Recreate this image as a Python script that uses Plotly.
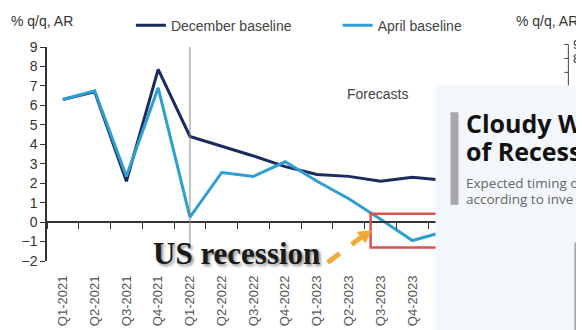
import plotly.graph_objs as go

# data
quarters = ['Q1-2021', 'Q2-2021', 'Q3-2021', 'Q4-2021', 'Q1-2022', 'Q2-2022', 'Q3-2022',
            'Q4-2022', 'Q1-2023', 'Q2-2023', 'Q3-2023', 'Q4-2023', 'Q1-2024']
december = [6.3, 6.7, 2.1, 7.85, 4.4, 3.9, 3.4, 2.85, 2.45, 2.35, 2.1, 2.3, 2.15]
april = [6.3, 6.75, 2.35, 6.9, 0.25, 2.55, 2.35, 3.1, 2.1, 1.2, 0.15, -0.95, -0.5]
y_ticks = list(range(-2, 10))

DARK = '#1c2b5e'
LIGHT = '#2f9fd2'
FONT = 'Liberation Sans, Arial, sans-serif'

# the page body has an 8px margin, so the figure is drawn 8px smaller
OFF = 8
W, H = 584 - OFF, 330 - OFF
# plot area in screen pixels
SL, SR, ST, SB = 47, 460.5, 46.5, 261.5
ML, MR, MT, MB = SL - OFF, W - (SR - OFF), ST - OFF, H - (SB - OFF)
PW, PH = SR - SL, SB - ST


# screen pixel -> paper helpers for the decorations
def px(x):
    return (x - SL) / PW


def py(y):
    return (SB - y) / PH


fig = go.Figure()

fig.add_trace(go.Scatter(x=quarters, y=december, mode='lines', name='December baseline',
                         line=dict(color=DARK, width=3), legend='legend'))
fig.add_trace(go.Scatter(x=quarters, y=april, mode='lines', name='April baseline',
                         line=dict(color=LIGHT, width=3), legend='legend2'))
# invisible trace so the zero-line axis gets drawn
fig.add_trace(go.Scatter(x=quarters, y=[None] * len(quarters), xaxis='x2',
                         showlegend=False, hoverinfo='skip'))

shapes = []
# vertical line at start of 2022
shapes.append(dict(type='line', xref='x', yref='y', x0=quarters.index('Q1-2022'),
                   x1=quarters.index('Q1-2022'), y0=-1.3, y1=9.8,
                   line=dict(color='#888888', width=1)))
# red box
shapes.append(dict(type='rect', xref='paper', yref='paper', x0=px(371), x1=px(475),
                   y0=py(248), y1=py(214), line=dict(color='#d9534f', width=2.5)))
# orange dashed arrow
shapes.append(dict(type='line', xref='paper', yref='paper', x0=px(328), y0=py(263),
                   x1=px(362), y1=py(237.5), line=dict(color='#f0a935', width=5, dash='dash')))
tip, b1, b2 = (372, 230.5), (366, 244), (357, 232)
shapes.append(dict(type='path', xref='paper', yref='paper', fillcolor='#f0a935', line=dict(width=0),
                   path='M{},{} L{},{} L{},{} Z'.format(px(tip[0]), py(tip[1]), px(b1[0]), py(b1[1]),
                                                         px(b2[0]), py(b2[1]))))
# bits of the neighbouring chart
shapes.append(dict(type='line', xref='paper', yref='paper', x0=px(569), x1=px(569), y0=py(44),
                   y1=py(86), line=dict(color='#444444', width=1)))
for yy in (44, 58, 72):
    shapes.append(dict(type='line', xref='paper', yref='paper', x0=px(565), x1=px(569), y0=py(yy),
                       y1=py(yy), line=dict(color='#444444', width=1)))
# overlay card
shapes.append(dict(type='rect', xref='paper', yref='paper', x0=px(436), x1=px(600), y0=py(340),
                   y1=py(85), fillcolor='#f3f6fa', line=dict(width=0), layer='above'))
shapes.append(dict(type='rect', xref='paper', yref='paper', x0=px(451), x1=px(459), y0=py(205),
                   y1=py(112), fillcolor='#a7a7a7', line=dict(width=0), layer='above'))
shapes.append(dict(type='rect', xref='paper', yref='paper', x0=px(575), x1=px(600), y0=py(340),
                   y1=py(243), fillcolor='#a7a7a7', line=dict(width=0), layer='above'))

annotations = [
    dict(text='% q/q, AR', x=px(9), y=py(20), xanchor='left', yanchor='middle',
         font=dict(size=14, color='#333333')),
    dict(text='Forecasts', x=px(378), y=py(94), xanchor='center', yanchor='middle',
         font=dict(size=14, color='#444444')),
    dict(text='<b>US recession</b>', x=px(237), y=py(254), xanchor='center', yanchor='middle',
         font=dict(family='Liberation Serif, Times New Roman, serif', size=31, color='#1a1a1a',
                   shadow='2px 2px 3px rgba(0,0,0,0.45)')),
    dict(text='% q/q, AR', x=px(515), y=py(20), xanchor='left', yanchor='middle',
         font=dict(size=14, color='#333333')),
    dict(text='9', x=px(572), y=py(44), xanchor='left', yanchor='middle',
         font=dict(size=13, color='#333333')),
    dict(text='8', x=px(572), y=py(58), xanchor='left', yanchor='middle',
         font=dict(size=13, color='#333333')),
    dict(text='<b>Cloudy W</b>', x=px(465), y=py(123), xanchor='left', yanchor='middle',
         font=dict(family='Open Sans', size=25, color='#111111')),
    dict(text='<b>of Recess</b>', x=px(465), y=py(151), xanchor='left', yanchor='middle',
         font=dict(family='Open Sans', size=25, color='#111111')),
    dict(text='Expected timing o', x=px(465), y=py(183), xanchor='left', yanchor='middle',
         font=dict(family='Open Sans', size=13.5, color='#666666')),
    dict(text='according to inve', x=px(465), y=py(199), xanchor='left', yanchor='middle',
         font=dict(family='Open Sans', size=13.5, color='#666666')),
]
for a in annotations:
    a.update(xref='paper', yref='paper', showarrow=False)

legend_style = dict(orientation='h', xanchor='left', yanchor='middle', bgcolor='rgba(0,0,0,0)',
                    font=dict(size=14, color='#444444'))

fig.update_layout(
    width=W, height=H,
    margin=dict(l=ML, r=MR, t=MT, b=MB, autoexpand=False),
    paper_bgcolor='white', plot_bgcolor='white',
    font=dict(family=FONT, color='#333333'),
    showlegend=True,
    legend=dict(x=px(131), y=py(25), **legend_style),
    legend2=dict(x=px(338), y=py(25), **legend_style),
    xaxis=dict(type='category', categoryorder='array', categoryarray=quarters,
               range=[-0.5, len(quarters) - 0.5], showline=False, showgrid=False, zeroline=False,
               ticks='', tickangle=-90, ticklabelstandoff=11,
               tickfont=dict(size=13, color='#555555')),
    xaxis2=dict(type='category', categoryorder='array', categoryarray=quarters,
                overlaying='x', anchor='free', position=2 / 11, side='bottom',
                range=[-0.5, len(quarters) - 0.5], showline=True, linecolor='#333333',
                linewidth=1.5, ticks='outside', tickson='boundaries', ticklen=6,
                tickcolor='#333333', tickwidth=1.2, showticklabels=False, showgrid=False,
                zeroline=False),
    yaxis=dict(range=[-2, 9], tickvals=y_ticks, showline=True, linecolor='#333333', linewidth=1.5,
               ticks='outside', ticklen=5, tickcolor='#333333', showgrid=False, zeroline=False,
               tickfont=dict(size=14, color='#333333')),
    shapes=shapes,
    annotations=annotations,
)

fig.write_html("out.html")
